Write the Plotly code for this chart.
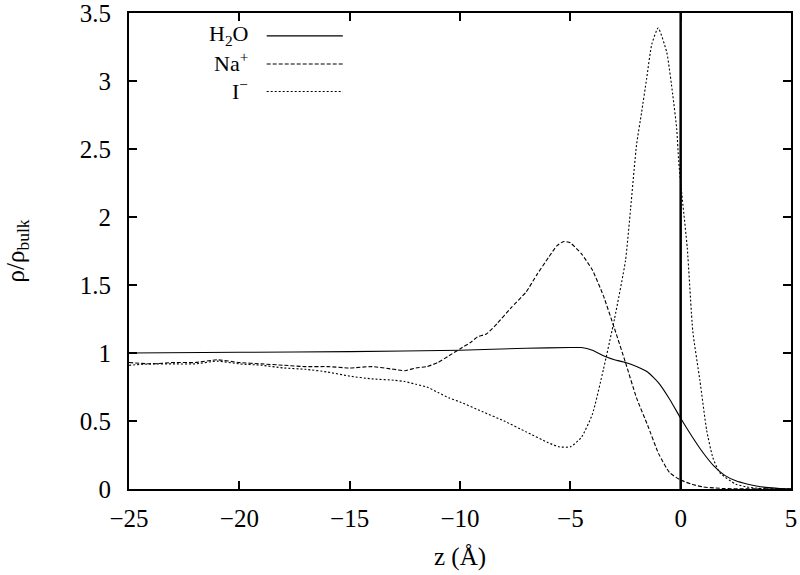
import plotly.graph_objects as go

# ---- data ----
z_h2o = [-25, -20, -15, -10, -7, -5, -4.5, -4, -3.5, -3, -2.5, -2, -1.5, -1, -0.5, 0,
         0.5, 1, 1.5, 2, 2.5, 3, 3.5, 4, 4.5, 5]
rho_h2o = [1.00, 1.005, 1.01, 1.02, 1.035, 1.04, 1.04, 1.02, 0.98, 0.95, 0.93, 0.90, 0.86,
           0.78, 0.66, 0.52, 0.39, 0.27, 0.17, 0.10, 0.06, 0.037, 0.02, 0.01, 0.003, 0.001]

z_na = [-25, -24, -23, -22, -21, -20, -19, -18, -17, -16, -15, -14, -13, -12.5, -12, -11.5,
        -11, -10.5, -10, -9.5, -9.2, -8.8, -8.3, -7.7, -7, -6.5, -6, -5.6, -5.3, -5, -4.5,
        -4, -3.5, -3, -2.5, -2, -1.5, -1, -0.5, 0, 0.5, 1, 1.5, 2, 5]
rho_na = [0.93, 0.92, 0.93, 0.93, 0.95, 0.93, 0.92, 0.91, 0.90, 0.90, 0.89, 0.90, 0.88, 0.87,
          0.89, 0.90, 0.93, 0.98, 1.03, 1.08, 1.12, 1.14, 1.22, 1.33, 1.45, 1.58, 1.70, 1.79,
          1.82, 1.81, 1.73, 1.61, 1.42, 1.18, 0.93, 0.67, 0.47, 0.26, 0.12, 0.066, 0.035,
          0.015, 0.008, 0.003, 0.0]

z_i = [-25, -24, -23, -22, -21, -20, -19, -18, -17, -16, -15, -14, -13, -12.5, -12, -11.5,
       -11, -10.5, -10, -9, -8, -7, -6, -5.5, -5, -4.5, -4, -3.5, -3, -2.5, -2.27, -2, -1.77,
       -1.54, -1.31, -1.02, -0.63, -0.36, -0.18, -0.09, 0.05, 0.3, 0.55, 0.87, 1.18, 1.46,
       1.77, 2.5, 3, 3.5, 4, 5]
rho_i = [0.91, 0.92, 0.92, 0.92, 0.94, 0.92, 0.91, 0.89, 0.88, 0.86, 0.83, 0.81, 0.80, 0.79,
         0.77, 0.75, 0.71, 0.67, 0.64, 0.57, 0.50, 0.42, 0.34, 0.31, 0.31, 0.38, 0.55, 0.88,
         1.25, 1.68, 2.06, 2.53, 2.77, 3.02, 3.27, 3.39, 3.21, 2.90, 2.65, 2.41, 2.17, 1.77,
         1.16, 0.80, 0.43, 0.23, 0.12, 0.035, 0.015, 0.005, 0.0, 0.0]

series_names = ["H<sub>2</sub>O", "Na<sup>+</sup>", "I<sup>\u2212</sup>"]
series_dash = ["solid", "4px,2px", "2px,2px"]

x_ticks = [-25, -20, -15, -10, -5, 0, 5]
y_ticks = [0, 0.5, 1, 1.5, 2, 2.5, 3, 3.5]

FONT = "Liberation Serif, Times New Roman, serif"
FS = 25

fig = go.Figure()
for zz, rr, dash in zip([z_h2o, z_na, z_i], [rho_h2o, rho_na, rho_i], series_dash):
    fig.add_trace(go.Scatter(x=zz, y=rr, mode="lines",
                             line=dict(color="black", width=1.1, dash=dash,
                                       shape="spline", smoothing=0.5),
                             showlegend=False, hoverinfo="skip"))

# vertical line at z = 0
fig.add_shape(type="line", xref="x", yref="y", x0=0, x1=0, y0=0, y1=3.5,
              line=dict(color="black", width=2.5))

# custom legend (text right-aligned, sample to the right)
leg_y = [0.952, 0.893, 0.835]
text_dy = [0.001, 0.004, 0.004]
for name, dash, ly, dy in zip(series_names, series_dash, leg_y, text_dy):
    fig.add_annotation(xref="paper", yref="paper", x=0.183, y=ly + dy, text=name,
                       showarrow=False, xanchor="right", yanchor="middle",
                       font=dict(family=FONT, size=22, color="black"))
    fig.add_shape(type="line", xref="paper", yref="paper", x0=0.208, x1=0.323,
                  y0=ly, y1=ly, line=dict(color="black", width=1.1, dash=dash))

axis_common = dict(
    showline=True, linecolor="black", linewidth=2, mirror="ticks",
    ticks="inside", ticklen=8, tickwidth=2, tickcolor="black",
    showgrid=False, zeroline=False, ticklabeloverflow="allow",
    tickfont=dict(family=FONT, size=FS, color="black"),
)

fig.update_xaxes(range=[-25, 5], tickvals=x_ticks, ticklabelstandoff=6,
                 title=dict(text="z (Å)", font=dict(family=FONT, size=FS, color="black"),
                            standoff=16),
                 **axis_common)
fig.update_yaxes(range=[0, 3.5], tickvals=y_ticks, ticklabelstandoff=11,
                 title=dict(text="ρ/ρ<sub>bulk</sub>",
                            font=dict(family=FONT, size=FS, color="black"), standoff=48),
                 **axis_common)

fig.update_layout(width=800, height=575, margin=dict(l=129, r=9, t=13, b=86, autoexpand=False),
                  plot_bgcolor="white", paper_bgcolor="white",
                  font=dict(family=FONT, color="black"))

fig.write_html("out.html", config={"displayModeBar": False},
               post_script="document.body.style.margin='0';")
